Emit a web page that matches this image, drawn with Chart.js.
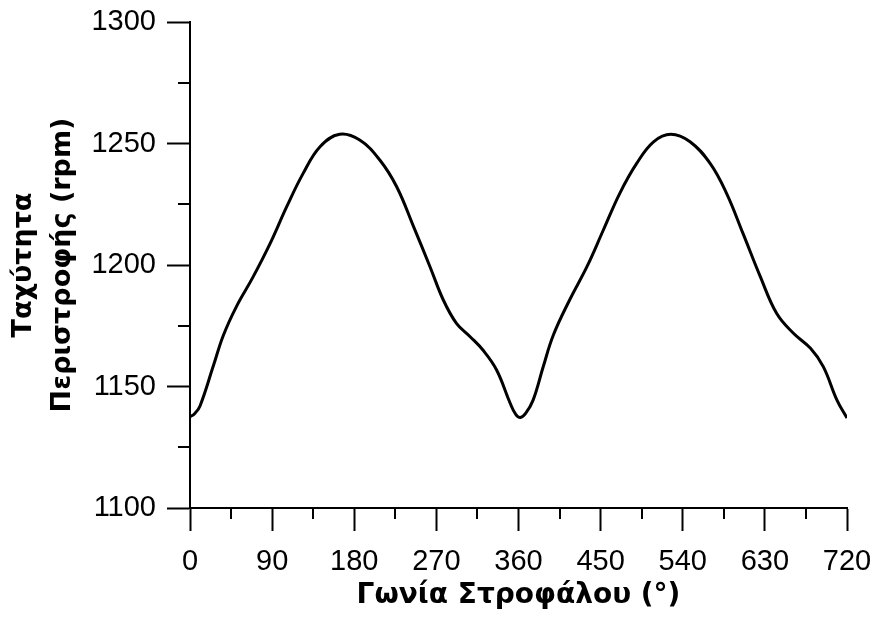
<!DOCTYPE html>
<html>
<head>
<meta charset="utf-8">
<script src="https://cdn.jsdelivr.net/npm/chart.js@4/dist/chart.umd.min.js"></script>
<style>
  html, body { margin: 0; padding: 0; background: #fff; }
  #wrap { width: 874px; height: 617px; }
</style>
</head>
<body>
<div id="wrap"><canvas id="speed-chart"></canvas></div>
<script>
// crank angle (deg) and rotational speed (rpm)
const crankAngle = [
  0, 5, 11, 25.6, 36.5, 51, 69, 88, 106, 124, 142.5, 164, 186, 208,
  226.5, 245, 263, 277.6, 292, 307, 321, 336, 351, 357, 362, 368, 376,
  387, 398, 416, 435, 453, 471, 489.5, 508, 527, 548, 570, 588, 606, 625,
  643, 661, 680, 694, 709, 720,
];
const speedRpm = [
  1137.5, 1138.8, 1142, 1158.5, 1171, 1183, 1195, 1209, 1224, 1237.7,
  1248.7, 1253.8, 1251.4, 1243.2, 1232.2, 1215.8, 1199.3, 1185.6, 1176,
  1170.5, 1165, 1156.8, 1143, 1138.5, 1137.2, 1139, 1144.4, 1158, 1171,
  1185.6, 1199.3, 1214.4, 1229.5, 1241.8, 1250.7, 1253.8, 1250.7, 1241.8,
  1229.5, 1213, 1195.2, 1180, 1172, 1165.7, 1158.2, 1144.4, 1137,
];
const xMinorTicks = [45, 135, 225, 315, 405, 495, 585, 675];
const yMinorTicks = [1125, 1175, 1225, 1275];

const xTitle = "Γωνία Στροφάλου (°)";
const yTitle = ["Ταχύτητα", "Περιστροφής (rpm)"];

const tickFont = 'Arial, "Liberation Sans", sans-serif';
const titleFont = '"DejaVu Sans", Verdana, sans-serif';

// minor ticks are shorter than the major ones, so draw them here
const minorTicks = {
  id: "minorTicks",
  afterDraw: (chart) => {
    const ctx = chart.ctx;
    const x = chart.scales.x;
    const y = chart.scales.y;
    ctx.save();
    ctx.strokeStyle = "#000";
    ctx.lineWidth = 2;
    ctx.beginPath();
    xMinorTicks.forEach((v) => {
      const px = Math.round(x.getPixelForValue(v));
      ctx.moveTo(px, y.bottom);
      ctx.lineTo(px, y.bottom + 11);
    });
    yMinorTicks.forEach((v) => {
      const py = Math.round(y.getPixelForValue(v));
      ctx.moveTo(x.left - 12, py);
      ctx.lineTo(x.left, py);
    });
    ctx.stroke();
    ctx.restore();
  },
};

document.addEventListener("DOMContentLoaded", () => {
  new Chart(document.getElementById("speed-chart"), {
    type: "line",
    data: {
      datasets: [
        {
          data: crankAngle.map((a, i) => ({ x: a, y: speedRpm[i] })),
          borderColor: "#000",
          borderWidth: 3,
          pointRadius: 0,
          tension: 0.4,
          fill: false,
        },
      ],
    },
    options: {
      responsive: true,
      maintainAspectRatio: false,
      animation: false,
      layout: {
        padding: { left: 0, top: 22, right: 27, bottom: 0 },
      },
      plugins: {
        legend: { display: false },
        tooltip: { enabled: false },
      },
      scales: {
        x: {
          type: "linear",
          min: 0,
          max: 720,
          afterFit: (scale) => {
            scale.height = 109;
            scale.paddingLeft = 0;
            scale.paddingRight = 0;
          },
          border: { color: "#000", width: 2 },
          grid: {
            drawOnChartArea: false,
            drawTicks: true,
            tickLength: 23,
            tickColor: "#000",
            tickWidth: 2,
          },
          ticks: {
            stepSize: 90,
            color: "#000",
            padding: 14,
            maxRotation: 0,
            font: { family: tickFont, size: 29 },
          },
          title: {
            display: true,
            text: xTitle,
            color: "#000",
            padding: { top: 0, bottom: 4 },
            font: { family: titleFont, size: 28, weight: "bold" },
          },
        },
        y: {
          min: 1100,
          max: 1300,
          afterFit: (scale) => {
            scale.width = 190;
            scale.paddingTop = 0;
            scale.paddingBottom = 0;
          },
          border: { color: "#000", width: 2 },
          grid: {
            drawOnChartArea: false,
            drawTicks: true,
            tickLength: 23,
            tickColor: "#000",
            tickWidth: 2,
          },
          ticks: {
            stepSize: 50,
            color: "#000",
            padding: 11,
            font: { family: tickFont, size: 29 },
            callback: (value) => `${value}`,
          },
          title: {
            display: true,
            text: yTitle,
            color: "#000",
            padding: { top: 4, bottom: 0 },
            font: { family: titleFont, size: 27, weight: "bold", lineHeight: 1.45 },
          },
        },
      },
    },
    plugins: [minorTicks],
  });
});
</script>
</body>
</html>
